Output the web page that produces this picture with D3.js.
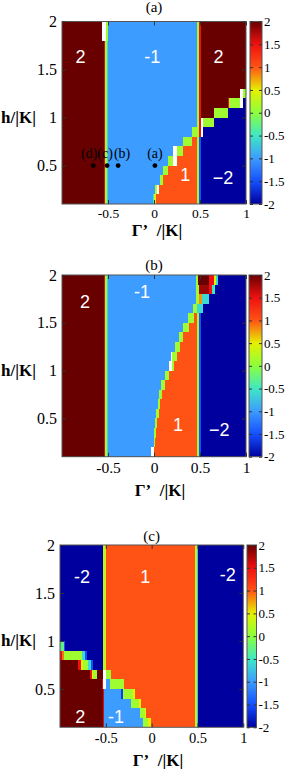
<!DOCTYPE html>
<html>
<head>
<meta charset="utf-8">
<script src="https://cdn.jsdelivr.net/npm/d3@7"></script>
<style>
  body { margin: 0; background: white; }
  svg { display: block; }
</style>
</head>
<body>
<div id="container"></div>
<script>
let w = 286;
let h = 769;

// h/|K| row edges (19 rows)
let hEdges = [0.1, 0.2, 0.3, 0.4, 0.5, 0.6, 0.7, 0.8, 0.9, 1.0, 1.1, 1.2, 1.3, 1.4, 1.5, 1.6, 1.7, 1.8, 1.9, 2.0];
let xTicks = [-0.5, 0, 0.5, 1];
let yTicks = [0.5, 1, 1.5, 2];
let cbTicks = [-2, -1.5, -1, -0.5, 0, 0.5, 1, 1.5, 2];
let cbColors = ["#00009e", "#1450ff", "#3d9cff", "#3ee8c4", "#8cff3c", "#e6f000", "#ff5315", "#f01010", "#680000"];

// cells: [gamma0, gamma1, row0, row1, value]   null = no data (white)
let cellsA = [
  [-1, -0.545, 0, 19, 2],
  [-0.545, -0.53, 0, 17, 1.6],
  [-0.53, -0.515, 0, 17, 0.1],
  [-0.515, -0.5, 0, 17, -0.6],
  [-0.56, -0.52, 17, 19, null],
  [-0.52, -0.5, 17, 19, 0.1],
  [-0.5, 0.465, 0, 19, -1],
  [0.465, 0.49, 0, 19, 0.1],
  [0.49, 0.51, 0, 7, -1.5],
  [0.49, 0.51, 7, 19, 1.5],
  [0.51, 1, 0, 19, 2],
  [0.51, 0.536, 0, 7, -2], [0.51, 0.536, 7, 9, null],
  [0.536, 0.65, 0, 8, -2], [0.536, 0.65, 8, 9, 0.1],
  [0.65, 0.8, 0, 9, -2], [0.65, 0.8, 9, 10, 0.1],
  [0.8, 0.935, 0, 10, -2], [0.8, 0.815, 10, 11, 1.5], [0.815, 0.935, 10, 11, 0.1],
  [0.935, 0.964, 0, 10, -2], [0.935, 0.964, 10, 12, null],
  [0.964, 1, 0, 11, -2], [0.964, 1, 11, 12, 0.1],
  [-0.014, 0, 0, 1, -0.5], [0, 0.022, 0, 1, 0.4], [0.022, 0.465, 0, 1, 1],
  [0.01, 0.03, 1, 2, 0.2], [0.03, 0.054, 1, 2, null], [0.054, 0.465, 1, 2, 1],
  [0.06, 0.1, 2, 3, 0.1], [0.1, 0.465, 2, 3, 1],
  [0.1, 0.156, 3, 4, 0.1], [0.156, 0.465, 3, 4, 1],
  [0.157, 0.21, 4, 5, 0.1], [0.21, 0.246, 4, 5, null], [0.246, 0.465, 4, 5, 1],
  [0.21, 0.246, 5, 6, null], [0.246, 0.319, 5, 6, 0.1], [0.319, 0.465, 5, 6, 1],
  [0.32, 0.409, 6, 7, 0.1], [0.409, 0.465, 6, 7, 1],
  [0.41, 0.465, 7, 8, 0.1]
];

let cellsB = [
  [-1, -0.545, 0, 19, 2],
  [-0.545, -0.53, 0, 19, 1.6],
  [-0.53, -0.515, 0, 19, 0.1],
  [-0.515, -0.5, 0, 19, -0.6],
  [-0.5, 0.465, 0, 19, -1],
  [0.465, 0.49, 0, 15, 0.1],
  [0.49, 0.51, 0, 15, -1.5],
  [0.51, 1, 0, 19, -2],
  [-0.03, 0, 0, 1, null], [0, 0.465, 0, 1, 1],
  [-0.005, 0.01, 1, 2, 0.1], [0.01, 0.465, 1, 2, 1],
  [0, 0.02, 2, 3, 0.1], [0.02, 0.465, 2, 3, 1],
  [0.01, 0.035, 3, 4, 0.1], [0.035, 0.465, 3, 4, 1],
  [0.025, 0.05, 4, 5, 0.1], [0.05, 0.465, 4, 5, 1],
  [0.04, 0.065, 5, 6, 0.1], [0.065, 0.465, 5, 6, 1],
  [0.055, 0.09, 6, 7, 0.1], [0.09, 0.465, 6, 7, 1],
  [0.08, 0.115, 7, 8, 0.1], [0.115, 0.465, 7, 8, 1],
  [0.12, 0.16, 8, 9, 0.1], [0.16, 0.465, 8, 9, 1],
  [0.168, 0.2, 9, 10, null], [0.2, 0.222, 9, 10, 0.1], [0.222, 0.465, 9, 10, 1],
  [0.18, 0.2, 10, 11, null], [0.2, 0.247, 10, 11, 0.1], [0.247, 0.465, 10, 11, 1],
  [0.23, 0.28, 11, 12, 0.1], [0.28, 0.465, 11, 12, 1],
  [0.27, 0.31, 12, 13, 0.1], [0.31, 0.465, 12, 13, 1],
  [0.32, 0.38, 13, 14, 0.1], [0.38, 0.465, 13, 14, 1],
  [0.37, 0.438, 14, 15, 0.1], [0.438, 0.465, 14, 15, 1],
  [0.42, 0.47, 15, 16, 0.1], [0.47, 0.53, 15, 16, -0.6],
  [0.46, 0.49, 16, 17, 0.1], [0.49, 0.52, 16, 17, 0.8], [0.52, 0.6, 16, 17, -0.6],
  [0.46, 0.49, 17, 18, 0.1], [0.49, 0.6, 17, 18, 1.8], [0.6, 0.63, 17, 18, 1.5], [0.63, 0.665, 17, 18, -0.5],
  [0.46, 0.48, 18, 19, 0.1], [0.48, 0.6, 18, 19, 2], [0.6, 0.654, 18, 19, 1.5], [0.654, 0.67, 18, 19, 0.5], [0.67, 0.7, 18, 19, -0.6]
];

let cellsC = [
  [-1, -0.535, 0, 19, -2],
  [-0.535, -0.5, 0, 19, 0.3],
  [-0.5, 0.47, 0, 19, 1],
  [0.47, 0.49, 0, 19, 0.3],
  [0.49, 0.51, 0, 19, -0.7],
  [0.51, 1, 0, 19, -2],
  [-1, -0.53, 0, 4, 2], [-0.53, -0.515, 0, 4, 1.6],
  [-0.515, -0.09, 0, 1, -1], [-0.09, -0.04, 0, 1, 0.1], [-0.04, -0.01, 0, 1, 0.5],
  [-0.515, -0.13, 1, 2, -1], [-0.13, -0.075, 1, 2, 0.1], [-0.075, -0.06, 1, 2, 0.5],
  [-0.515, -0.22, 2, 3, -1], [-0.22, -0.14, 2, 3, 0.1], [-0.14, -0.12, 2, 3, 0.5],
  [-0.515, -0.33, 3, 4, -1], [-0.33, -0.31, 3, 4, -1.6], [-0.31, -0.2, 3, 4, 0.1], [-0.2, -0.18, 3, 4, 0.5],
  [-1, -0.545, 4, 5, 2], [-0.545, -0.53, 4, 5, 1.6], [-0.53, -0.5, 4, 5, null], [-0.5, -0.455, 4, 5, -1], [-0.455, -0.3, 4, 5, 0.1],
  [-1, -0.67, 5, 6, 2], [-0.67, -0.654, 5, 6, 1.5], [-0.654, -0.64, 5, 6, 0.5], [-0.64, -0.6, 5, 6, 0.1], [-0.6, -0.53, 5, 6, 2], [-0.53, -0.5, 5, 6, null], [-0.5, -0.44, 5, 6, 0.1],
  [-1, -0.8, 6, 7, 2], [-0.8, -0.771, 6, 7, 1.5], [-0.771, -0.745, 6, 7, 0.5], [-0.745, -0.69, 6, 7, 0.1], [-0.69, -0.66, 6, 7, -0.6], [-0.66, -0.637, 6, 7, -1.5],
  [-1, -0.98, 7, 8, 1.5], [-0.98, -0.953, 7, 8, 0.9], [-0.953, -0.763, 7, 8, 0.1], [-0.763, -0.727, 7, 8, -0.6], [-0.727, -0.7, 7, 8, -1.5],
  [-1, -0.953, 8, 9, -0.3], [-0.953, -0.94, 8, 9, -1.5]
];

// Chern number labels: [text, gamma, h]
let regionLabelsA = [["2", -0.80, 1.63], ["-1", -0.02, 1.63], ["2", 0.70, 1.63], ["1", 0.34, 0.40], ["\u22122", 0.75, 0.37]];
let regionLabelsB = [["2", -0.75, 1.72], ["-1", -0.13, 1.82], ["1", 0.26, 0.43], ["\u22122", 0.71, 0.38]];
let regionLabelsC = [["-2", -0.76, 1.67], ["1", -0.07, 1.67], ["-2", 0.83, 1.69], ["2", -0.78, 0.21], ["-1", -0.39, 0.21]];

// marked points in panel (a)
let pointGamma = [-0.66, -0.51, -0.39, 0.01];
let pointH = [0.5, 0.5, 0.5, 0.5];
let pointNames = ["(d)", "(c)", "(b)", "(a)"];

let color = d3.scaleLinear().domain(cbTicks).range(cbColors).clamp(true);

let viz = d3.select("#container")
  .append("svg")
    .attr("width", w)
    .attr("height", h)
    .style("background-color", "white")
;

let defs = viz.append("defs");
let grad = defs.append("linearGradient")
  .attr("id", "cbGrad")
  .attr("x1", 0).attr("y1", 1).attr("x2", 0).attr("y2", 0);
grad.selectAll("stop").data(cbTicks).enter()
  .append("stop")
    .attr("offset", d => (d + 2) / 4)
    .attr("stop-color", (d, i) => cbColors[i]);

let serif = "'Liberation Serif', 'Times New Roman', serif";

let panels = [
  {title: "(a)", cells: cellsA, labels: regionLabelsA, box: [62, 246, 21.5, 204], cb: [250, 262],
   titleY: 12, xTickY: 218, xFont: 13.5, xLabelX: 157, xLabelY: 236, points: true},
  {title: "(b)", cells: cellsB, labels: regionLabelsB, box: [62, 246, 275, 456.7], cb: [249, 262],
   titleY: 270, xTickY: 473, xFont: 15.5, xLabelX: 160, xLabelY: 496, points: false},
  {title: "(c)", cells: cellsC, labels: regionLabelsC, box: [60, 243.3, 545, 727.3], cb: [247, 256.5],
   titleY: 541, xTickY: 743, xFont: 14.5, xLabelX: 158, xLabelY: 766, points: false}
];

function drawPanel(p){
  let [x0, x1, y0, y1] = p.box;
  let xScale = d3.scaleLinear().domain([-1, 1]).range([x0, x1]);
  let yScale = d3.scaleLinear().domain([hEdges[0], hEdges[hEdges.length - 1]]).range([y1, y0]);

  let g = viz.append("g").attr("class", "panel");

  g.selectAll(".cell").data(p.cells).enter()
    .append("rect")
      .attr("class", "cell")
      .attr("x", d => xScale(d[0]))
      .attr("width", d => xScale(d[1]) - xScale(d[0]))
      .attr("y", d => yScale(hEdges[d[3]]))
      .attr("height", d => yScale(hEdges[d[2]]) - yScale(hEdges[d[3]]))
      .attr("shape-rendering", "crispEdges")
      .style("fill", d => d[4] === null ? "white" : color(d[4]))
  ;

  // region numbers
  g.selectAll(".chern").data(p.labels).enter()
    .append("text")
      .attr("class", "chern")
      .attr("x", d => xScale(d[1]))
      .attr("y", d => yScale(d[2]))
      .attr("text-anchor", "middle")
      .attr("dominant-baseline", "central")
      .text(d => d[0])
      .style("fill", "white")
      .style("font-size", "18px")
      .style("font-family", "'Liberation Sans', Arial, sans-serif")
  ;

  // frame
  g.append("rect")
    .attr("x", x0).attr("y", y0)
    .attr("width", x1 - x0).attr("height", y1 - y0)
    .style("fill", "none")
    .style("stroke", "#555")
    .style("stroke-width", 1)
  ;

  // axes with inward ticks
  let fs = p.xFont;
  let xAxis = d3.axisBottom(xScale).tickValues(xTicks).tickSize(-4)
    .tickPadding(p.xTickY - y1 - 0.71 * fs)
    .tickFormat(d => String(d));
  g.append("g")
    .attr("transform", "translate(0," + y1 + ")")
    .call(xAxis)
    .call(s => s.select(".domain").remove())
    .call(s => s.selectAll("text").style("font-size", fs + "px").style("font-family", serif).style("fill", "black"))
    .call(s => s.selectAll("line").style("stroke", "#333"))
  ;
  g.append("g")
    .attr("transform", "translate(0," + y0 + ")")
    .call(d3.axisTop(xScale).tickValues(xTicks).tickSize(-4).tickFormat(""))
    .call(s => s.select(".domain").remove())
    .call(s => s.selectAll("line").style("stroke", "#333"))
  ;
  let yAxis = d3.axisLeft(yScale).tickValues(yTicks).tickSize(-4).tickPadding(5)
    .tickFormat(d => String(d));
  g.append("g")
    .attr("transform", "translate(" + x0 + ",0)")
    .call(yAxis)
    .call(s => s.select(".domain").remove())
    .call(s => s.selectAll("text").style("font-size", "16px").style("font-family", serif).style("fill", "black"))
    .call(s => s.selectAll("line").style("stroke", "#333"))
  ;
  g.append("g")
    .attr("transform", "translate(" + x1 + ",0)")
    .call(d3.axisRight(yScale).tickValues(yTicks).tickSize(-4).tickFormat(""))
    .call(s => s.select(".domain").remove())
    .call(s => s.selectAll("line").style("stroke", "#333"))
  ;

  // colour box
  let [c0, c1] = p.cb;
  let cbScale = d3.scaleLinear().domain([-2, 2]).range([y1, y0]);
  g.append("rect")
    .attr("x", c0).attr("y", y0)
    .attr("width", c1 - c0).attr("height", y1 - y0)
    .style("fill", "url(#cbGrad)")
    .style("stroke", "#555")
    .style("stroke-width", 1)
  ;
  g.append("g")
    .attr("transform", "translate(" + c1 + ",0)")
    .call(d3.axisRight(cbScale).tickValues(cbTicks).tickSize(-3).tickPadding(2)
      .tickFormat(d => String(d)))
    .call(s => s.select(".domain").remove())
    .call(s => s.selectAll("text").style("font-size", "13px").style("font-family", serif).style("fill", "black"))
    .call(s => s.selectAll("line").style("stroke", "#333"))
  ;
  g.append("g")
    .attr("transform", "translate(" + c0 + ",0)")
    .call(d3.axisLeft(cbScale).tickValues(cbTicks).tickSize(-3).tickFormat(""))
    .call(s => s.select(".domain").remove())
    .call(s => s.selectAll("line").style("stroke", "#333"))
  ;

  // title and axis labels
  g.append("text")
    .attr("x", (x0 + x1) / 2)
    .attr("y", p.titleY)
    .attr("text-anchor", "middle")
    .text(p.title)
    .style("font-size", "15px")
    .style("font-family", serif)
  ;
  g.append("text")
    .attr("x", 1)
    .attr("y", yScale(1) + 5)
    .text("h/|K|")
    .style("font-size", "17px")
    .style("font-weight", "bold")
    .style("font-family", serif)
  ;
  g.append("text")
    .attr("x", p.xLabelX)
    .attr("y", p.xLabelY)
    .attr("text-anchor", "middle")
    .text("\u0393\u2019\u00a0\u00a0/|K|")
    .style("font-size", "17px")
    .style("font-weight", "bold")
    .style("font-family", serif)
  ;

  if (p.points) {
    let nudge = [-4, -2, 4, 0];
    g.selectAll(".pt").data(pointGamma).enter()
      .append("circle")
        .attr("class", "pt")
        .attr("cx", d => xScale(d))
        .attr("cy", (d, i) => yScale(pointH[i]))
        .attr("r", 2.4)
        .style("fill", "black")
    ;
    g.selectAll(".ptLabel").data(pointGamma).enter()
      .append("text")
        .attr("class", "ptLabel")
        .attr("x", (d, i) => xScale(d) + nudge[i])
        .attr("y", (d, i) => yScale(pointH[i]) - 8)
        .attr("text-anchor", "middle")
        .text((d, i) => pointNames[i])
        .style("font-size", "14px")
        .style("font-family", serif)
    ;
  }
}

panels.forEach(drawPanel);
</script>
</body>
</html>
